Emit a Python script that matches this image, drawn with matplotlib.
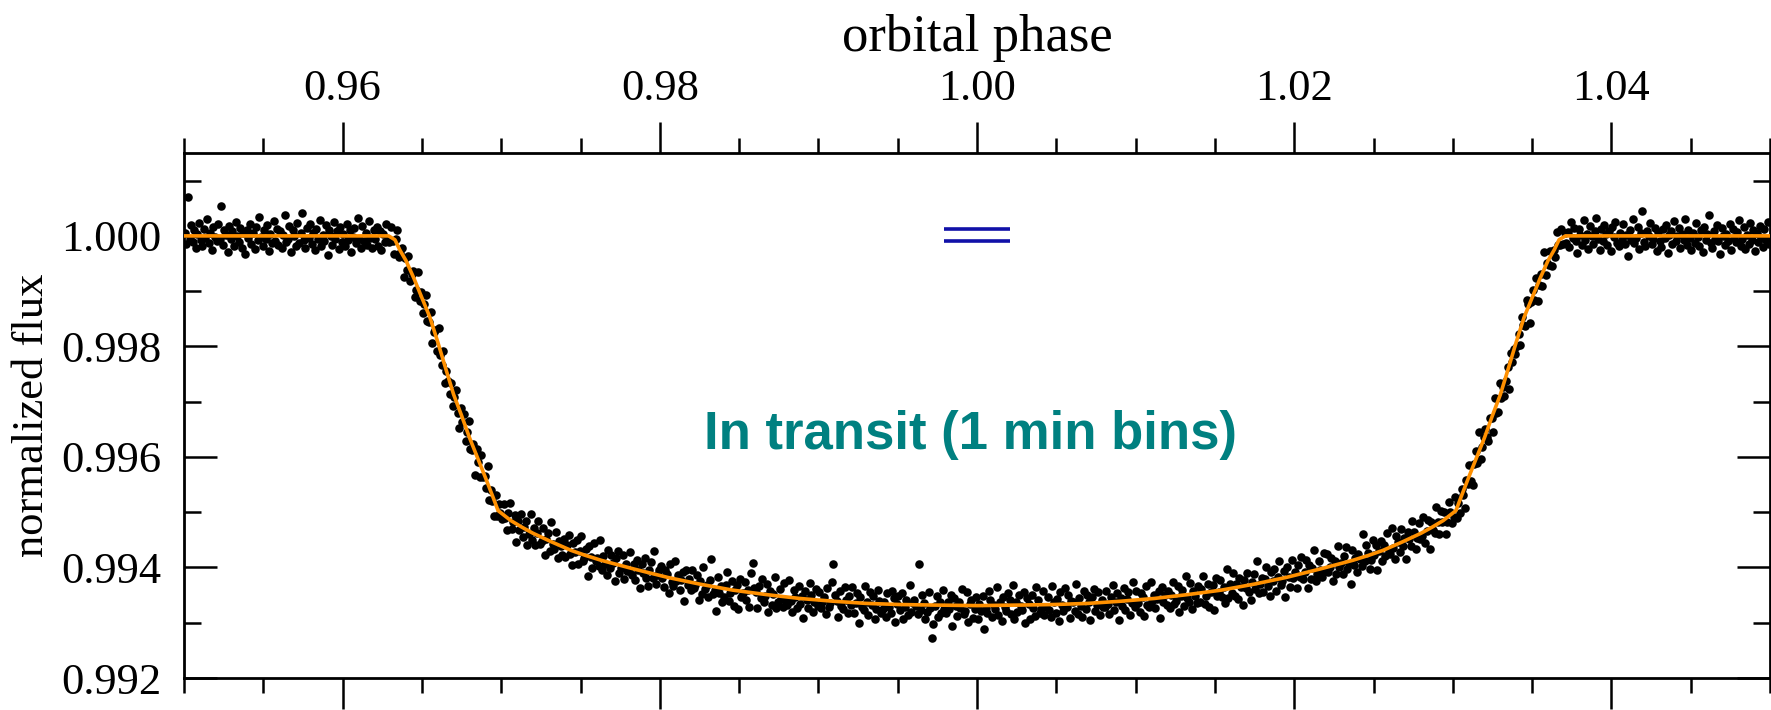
import numpy as np
import matplotlib.pyplot as plt
from matplotlib.ticker import MultipleLocator, FormatStrFormatter

plt.rcParams['font.family'] = ['Liberation Serif', 'DejaVu Serif']

# 1 min binned light curve, depth below 1.0 in units of 1e-5
# (phase grid 0.95005 ... 1.04995, 1000 bins)
depth_pre = [
    -5, 14, -70, 6, -19, 11, -10, 22, -3, -24, 8, 18, -13, 3, -30, 13, -6, 26, -16, 2,
    10, -21, 5, -55, 16, -11, -2, 29, -18, 6, -8, 19, -26, 0, 11, -14, 21, -5, 32, -10,
    3, -22, 14, -6, 24, -16, 8, -34, 2, 18, -11, 5, -19, 27, -3, 13, -27, 10, -13, 16,
    -8, 21, -2, -37, 11, 6, -18, 30, -10, 0, 19, -24, 13, -5, -42, 8, 22, -14, 3, -21,
    14, -6, 26, -13, 5, -29, 18, -2, 10, -19, 34, -11, 0, 16, -26, 6, -8, 24, -16, 11,
    -3, 19, -22, 8, -10, 29, 2, -14, 13, -32, 5, 22, -18, 10, -5, 16, -27, 3, 21, -11,
    6, -16, 18, -8, 26, -3, 11, -21, 5,
]
depth_ingress = [
    11, -17, 9, 32, 5, -11, 39, 31, 21, 75,
    40, 61, 36, 82, 69, 63, 111, 97, 66, 118,
    102, 140, 123, 107, 154, 155, 138, 194, 173, 170,
    209, 166, 215, 233, 209, 266, 244, 263, 286, 266,
    307, 291, 279, 321, 347, 312, 336, 322, 371, 355,
    335, 386, 387, 376, 432, 385, 410, 436, 396, 436,
    435, 457, 417, 478, 459, 479, 507, 468, 507, 485,
    501,
]
depth_bottom = [
    513, 485, 511, 532, 502, 483, 530, 518, 505, 554, 516, 533, 503, 545, 526, 516, 559, 540, 503, 550,
    528, 560, 538, 516, 557, 552, 528, 577, 548, 538, 570, 518, 558, 567, 535, 583, 552, 562, 577, 548,
    581, 559, 541, 576, 596, 555, 572, 551, 593, 570, 543, 588, 583, 566, 615, 562, 581, 601, 555, 589,
    582, 598, 550, 605, 579, 593, 614, 568, 601, 577, 591, 624, 583, 570, 610, 601, 578, 620, 594, 607,
    606, 572, 613, 594, 622, 586, 604, 637, 593, 610, 583, 619, 634, 605, 590, 619, 570, 629, 614, 604,
    597, 619, 636, 604, 612, 646, 593, 627, 634, 589, 624, 614, 640, 623, 609, 660, 604, 632, 620, 640,
    605, 638, 631, 614, 658, 625, 648, 599, 639, 632, 654, 622, 585, 648, 640, 678, 618, 647, 634, 662,
    654, 631, 609, 660, 647, 624, 669, 641, 631, 676, 620, 653, 647, 626, 658, 640, 671, 610, 592, 637,
    644, 674, 633, 656, 621, 662, 651, 629, 681, 642, 667, 648, 617, 674, 662, 639, 657, 672, 628, 661,
    667, 622, 660, 681, 641, 653, 673, 633, 666, 651, 691, 643, 659, 673, 628, 649, 681, 663, 639, 669,
    644, 674, 662, 653, 685, 638, 672, 665, 626, 593, 649, 660, 690, 643, 669, 675, 635, 658, 682, 651,
    668, 635, 683, 664, 646, 701, 653, 671, 677, 633, 662, 686, 645, 667, 651, 693, 675, 641, 660, 683,
    675, 662, 689, 647, 672, 682, 642, 656, 698, 666, 652, 677, 646, 693, 672, 659, 686, 632, 680, 665,
    659, 670, 685, 594, 677, 649, 664, 694, 680, 645, 673, 727, 702, 670, 652, 689, 662, 682, 641, 676,
    682, 663, 676, 649, 705, 655, 670, 687, 662, 673, 639, 685, 679, 645, 699, 666, 658, 691, 675, 653,
    693, 666, 679, 651, 711, 674, 683, 643, 658, 690, 668, 676, 636, 686, 663, 697, 654, 671, 679, 646,
    658, 685, 631, 693, 662, 680, 649, 670, 677, 644, 700, 655, 666, 694, 650, 673, 687, 636, 659, 682,
    675, 642, 686, 671, 654, 677, 689, 633, 663, 682, 657, 697, 645, 667, 679, 638, 672, 650, 691, 661,
    663, 678, 630, 684, 656, 669, 690, 643, 675, 650, 663, 695, 653, 639, 679, 668, 644, 686, 659, 672,
    672, 642, 666, 685, 653, 632, 677, 662, 647, 695, 655, 670, 638, 677, 657, 645, 686, 665, 626, 671,
    642, 664, 680, 646, 654, 687, 633, 667, 672, 626, 661, 650, 674, 657, 642, 692, 635, 662, 649, 668,
    643, 674, 650, 627, 666, 660, 634, 681, 651, 640, 670, 616, 655, 663, 628, 675, 643, 651, 664, 634,
    662, 639, 616, 666, 652, 629, 672, 644, 632, 677, 619, 652, 644, 623, 653, 635, 665, 603, 656, 629,
    646, 610, 651, 630, 657, 619, 636, 668, 622, 638, 610, 644, 658, 627, 612, 639, 588, 646, 630, 619,
    644, 620, 600, 633, 652, 609, 624, 602, 642, 617, 589, 632, 625, 607, 654, 599, 617, 635, 586, 619,
    608, 637, 596, 617, 581, 621, 609, 586, 637, 596, 621, 601, 569, 624, 612, 588, 604, 618, 574, 606,
    575, 608, 599, 582, 624, 589, 612, 561, 600, 591, 612, 579, 563, 602, 593, 629, 568, 595, 582, 608,
    575, 585, 598, 539, 588, 559, 573, 602, 587, 551, 577, 560, 604, 571, 552, 588, 560, 579, 537, 571,
    575, 529, 565, 585, 543, 554, 572, 531, 562, 546, 584, 535, 549, 562, 515, 535, 566, 546, 520, 549,
    543, 508, 555, 534, 514, 566, 517, 533, 537, 491, 517, 540, 497, 517, 499, 539, 518, 482, 499, 520,
]
depth_egress = [
    509, 472, 510, 483, 502, 458, 469, 493, 441, 449,
    415, 443, 450, 412, 390, 411, 354, 404, 382, 364,
    349, 363, 371, 330, 330, 355, 294, 321, 319, 266,
    294, 274, 289, 262, 237, 277, 211, 228, 205, 214,
    200, 178, 197, 146, 162, 163, 116, 123, 158, 119,
    98, 116, 77, 117, 89, 69, 90, 29, 71, 49,
    52, 28, 54, 25, 38, -7, 16, 17, -12, 14,
    -6,
]
depth_post = [
    12, -7, 20, -25, 4, -15, 9, 31, -12, -1, 17, -28, 7, -4, 23, -18, 1, 14, -9, -33,
    5, 25, -13, 10, -20, -3, 16, -8, 28, -16, 2, -26, 12, 19, -6, 8, -22, 15, -1, 36,
    -11, 7, -30, 13, 3, -17, 24, -5, -45, 11, 18, -9, 0, -23, 14, 6, -14, 27, -7, 9,
    20, -12, 4, -19, 31, -2, -8, 15, -27, 10, 1, -15, 22, -4, 8, -31, 17, -10, 3, 25,
    -6, 13, -24, 2, 18, -11, 29, -17, 7, -3, -38, 12, 21, -9, 5, -20, 10, 33, -14, 0,
    16, -4, 9, -21, 26, -13, 3, 11, -7, -29, 19, 6, -16, 24, -2, 14, -23, 8, -10, 28,
    -5, 11, -18, 4, 20, -12, 7, -26, 15,
]

# transit model
model_phase = [0.950, 0.9629, 0.9633, 0.9636, 0.9640, 0.9645, 0.9650, 0.9655, 0.9660,
               0.9665, 0.9670, 0.9675, 0.9680, 0.9685, 0.9690, 0.9695, 0.9698, 0.9702,
               0.9706, 0.9713, 0.9720, 0.9732, 0.9744, 0.9753, 0.9763, 0.9784, 0.9805,
               0.9825, 0.9846, 0.9867, 0.9888, 0.9909, 0.9930, 0.9951, 0.9972, 1.0000,
               1.0028, 1.0049, 1.0070, 1.0091, 1.0112, 1.0133, 1.0154, 1.0175, 1.0195,
               1.0216, 1.0237, 1.0247, 1.0256, 1.0268, 1.0280, 1.0287, 1.0294, 1.0298,
               1.0302, 1.0305, 1.0310, 1.0315, 1.0320, 1.0325, 1.0330, 1.0335, 1.0340,
               1.0345, 1.0350, 1.0355, 1.0360, 1.0364, 1.0367, 1.0371, 1.050]
model_depth = [0, 0, 7, 25, 45, 77, 112, 147, 192,
               240, 287, 325, 365, 401, 437, 474, 497, 506,
               515, 527, 538, 554, 569, 578, 587, 603, 618,
               630, 641, 649, 656, 661, 665, 667, 668, 669,
               668, 667, 665, 661, 656, 649, 641, 630, 618,
               603, 587, 578, 569, 554, 538, 527, 515, 506,
               497, 474, 437, 401, 365, 325, 287, 240, 192,
               147, 112, 77, 45, 25, 7, 0, 0]

# blue double bar
bar_x = [0.9979, 1.0021]
bar_y = [1.00012, 0.99990]

depth = depth_pre + depth_ingress + depth_bottom + depth_egress + depth_post
phase = np.linspace(0.95005, 1.04995, len(depth))
flux = 1 - np.array(depth) * 1e-5
mflux = 1 - np.array(model_depth) * 1e-5

fig = plt.figure(figsize=(17.71, 7.10), dpi=100)
ax = fig.add_axes([184 / 1771, 1 - 678 / 710, (1770 - 184) / 1771, (678 - 153) / 710])

ax.scatter(phase, flux, s=38, c='black', linewidths=0, zorder=2)
ax.plot(model_phase, mflux, color='#ff9000', lw=2.6, zorder=3)
ax.hlines(bar_y, bar_x[0], bar_x[1], colors='#1010a8', lw=2.6, zorder=4)

ax.text(0.9996, 0.99639, 'In transit (1 min bins)', color='#008080',
        fontsize=38, fontweight='bold', family='Liberation Sans',
        ha='center', va='center')

ax.set_xlim(0.95, 1.05)
ax.set_ylim(0.992, 1.0015)
ax.xaxis.set_major_locator(MultipleLocator(0.02))
ax.xaxis.set_minor_locator(MultipleLocator(0.005))
ax.yaxis.set_major_locator(MultipleLocator(0.002))
ax.yaxis.set_minor_locator(MultipleLocator(0.001))
ax.xaxis.set_major_formatter(FormatStrFormatter('%.2f'))
ax.yaxis.set_major_formatter(FormatStrFormatter('%.3f'))

ax.tick_params(axis='x', which='both', top=True, bottom=True, labeltop=True,
               labelbottom=False, direction='out', width=1.8, labelsize=32)
ax.tick_params(axis='x', which='major', length=22, pad=10)
ax.tick_params(axis='x', which='minor', length=11)
ax.tick_params(axis='y', which='both', left=True, right=True, direction='in',
               width=1.8, labelsize=32)
ax.tick_params(axis='y', which='major', length=24, pad=16)
ax.tick_params(axis='y', which='minor', length=12)

for s in ax.spines.values():
    s.set_linewidth(2.0)

ax.xaxis.set_label_position('top')
ax.set_xlabel('orbital phase', fontsize=38, labelpad=13)
ax.set_ylabel('normalized flux', fontsize=32, labelpad=7)

fig.savefig('out.png', dpi=100)
